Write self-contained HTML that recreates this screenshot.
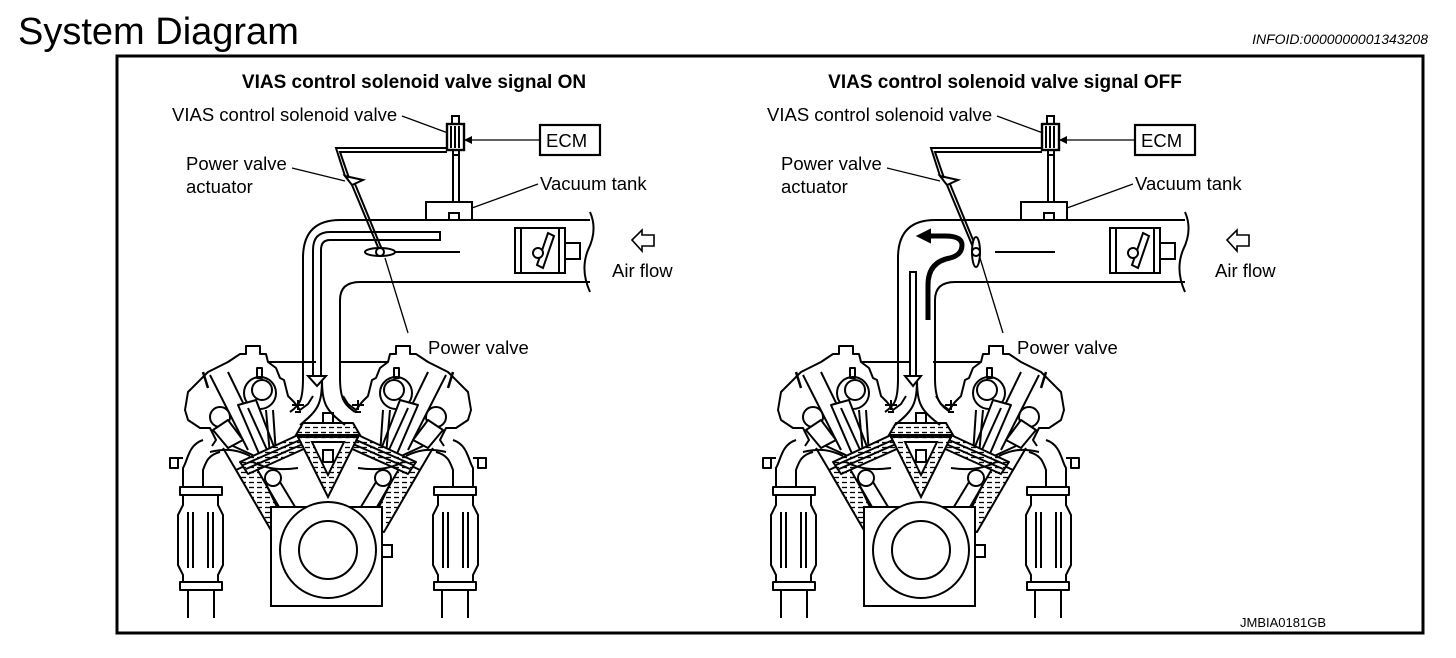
<!DOCTYPE html>
<html><head><meta charset="utf-8"><style>
html,body{margin:0;padding:0;background:#fff;}
body{width:1456px;height:658px;overflow:hidden;position:relative;font-family:"Liberation Sans",sans-serif;}
svg{position:absolute;left:0;top:0;}
text{font-family:"Liberation Sans",sans-serif;fill:#000;}
</style></head><body>
<svg width="1456" height="658" viewBox="0 0 1456 658" xmlns="http://www.w3.org/2000/svg">
<defs>
<pattern id="hatch" width="8" height="5" patternUnits="userSpaceOnUse">
<rect width="8" height="5" fill="#fff"/><line x1="1" y1="2.5" x2="6" y2="2.5" stroke="#000" stroke-width="1.3"/>
</pattern>
<g id="engineHalf" fill="none" stroke="#000" stroke-width="2" stroke-linejoin="round">
  <path d="M-28,362 L-60,362 L-62,354 L-68,354 L-68,346 L-82,346 L-82,354 L-88,354 L-100,362 L-120,372 L-140,392 L-143,410 L-140,420 L-128,428 L-118,428 L-112,440 L-116,446"/>
  <path d="M-60,362 L-52,368 L-48,378 L-44,380 L-40,396 L-34,402 L-28,410 L-20,404 L-15,396"/>
  <line x1="-28" y1="362" x2="-12" y2="362"/>
  <circle cx="-68" cy="393" r="16" fill="#fff"/>
  <circle cx="-66" cy="390" r="10"/>
  <rect x="-71" y="368" width="5" height="10"/>
  <circle cx="-108" cy="417" r="10" fill="#fff"/>
  <path d="M-118,375 L-80,450"/>
  <path d="M-100,372 L-62,450"/>
  <path d="M-90,405 L-72,400 L-52,452 L-68,456 Z" fill="#fff"/>
  <path d="M-80,408 L-60,452"/>
  <path d="M-115,430 L-100,420 L-85,440 L-100,448 Z" fill="#fff"/>
  <path d="M-95,446 L-60,462"/>
  <path d="M-62,410 L-58,455"/>
  <path d="M-55,410 L-52,455"/>
  <line x1="-125" y1="372" x2="-120" y2="388" stroke-width="2.5"/>
  <path d="M-30,400 L-30,410 M-36,405 L-24,405 M-33,412 L-27,412"/>
  <path d="M-125,440 C-140,445 -140,460 -145,468 L-145,487"/>
  <path d="M-108,452 C-120,455 -122,462 -125,470 L-125,487"/>
  <path d="M-145,458 L-158,458 L-158,468 L-150,468 L-150,458" fill="#fff"/>
  <path d="M-118,452 C-100,448 -90,450 -78,456"/>
  <rect x="-148" y="487" width="42" height="8" fill="#fff"/>
  <path d="M-145,495 L-145,505 L-150,515 L-150,565 L-145,575 L-145,582 M-110,495 L-110,505 L-105,515 L-105,565 L-110,575 L-110,582"/>
  <path d="M-140,512 L-140,568 M-135,512 L-135,568 M-120,512 L-120,568 M-115,512 L-115,568"/>
  <rect x="-148" y="582" width="42" height="8" fill="#fff"/>
  <path d="M-140,590 L-140,618 M-114,590 L-114,618"/>
  <path d="M-92,470 L-75,462 L-38,526 L-56,532 Z" fill="url(#hatch)"/>
  <path d="M-88,462 L-30,435 L-22,448 L-80,474 Z" fill="url(#hatch)"/>
  <path d="M-85,465 L-28,440 M-82,469 L-25,444"/>
  <circle cx="-55" cy="478" r="8" fill="#fff"/>
  <path d="M-62,484 L-40,530 M-48,482 L-25,520"/>
  <path d="M-75,462 C-60,470 -45,470 -30,468"/>
  <path d="M-105,448 L-92,470"/>
</g>
<g id="engine" fill="none" stroke="#000" stroke-width="2">
  <use href="#engineHalf"/>
  <use href="#engineHalf" transform="scale(-1,1)"/>
  <path d="M-25,423 L25,423 L32,435 L-32,435 Z" fill="url(#hatch)"/>
  <rect x="-5" y="413" width="10" height="10" fill="#fff"/>
  <path d="M-30,437 L30,437 L0,497 Z" fill="url(#hatch)"/>
  <path d="M-16,442 L16,442 L0,475 Z" fill="#fff"/>
  <rect x="-5" y="450" width="10" height="12" fill="#fff"/>
  <rect x="-57" y="507" width="111" height="99" fill="#fff"/>
  <circle cx="0" cy="550" r="48" fill="#fff"/>
  <circle cx="0" cy="550" r="29"/>
  <rect x="54" y="545" width="10" height="12"/>
</g>
<g id="panelTop" fill="none" stroke="#000" stroke-width="2">
  <rect x="540" y="125" width="60" height="30" stroke-width="2.2"/>
  <line x1="540" y1="140" x2="464" y2="140" stroke-width="1.3"/>
  <path d="M464,140 L472,136 L472,144 Z" fill="#000" stroke="none"/>
  <rect x="452" y="116" width="7" height="8"/>
  <rect x="447" y="124" width="17" height="26" fill="#fff" stroke-width="2.4"/>
  <path d="M451,126 L451,148 M455,126 L455,148 M459,126 L459,148"/>
  <rect x="453" y="150" width="6" height="5"/>
  <path d="M453,155 L453,202 M459,155 L459,202"/>
  <path d="M447,148 L336,148 L345,176 M447,152 L340,152 L349,178"/>
  <rect x="426" y="202" width="46" height="18" fill="#fff"/>
  <rect x="449" y="213" width="10" height="7"/>
  <path d="M402,116 L448,133" stroke-width="1.3"/>
  <path d="M292,168 L345,181" stroke-width="1.3"/>
  <path d="M538,184 L472,208" stroke-width="1.3"/>
  <path d="M385,258 L408,333" stroke-width="1.3"/>
  <path d="M590,220 L340,220 Q303,220 303,258 L303,378"/>
  <path d="M590,282 L360,282 Q340,282 340,300 L340,378"/>
  <path d="M590,212 Q598,230 588,250 Q580,270 590,292"/>
  <rect x="515" y="228" width="50" height="45" fill="#fff"/>
  <path d="M521,228 L521,273 M559,228 L559,273"/>
  <rect x="565" y="243" width="15" height="16"/>
  <path d="M537,265 L548,233 L554,236 L543,268 Z" fill="#fff"/>
  <circle cx="538" cy="253" r="5" fill="#fff"/>
  <path d="M632,240 L642,230 L642,235 L654,235 L654,246 L642,246 L642,251 Z" fill="#fff" stroke-width="1.6"/>
  <path d="M303,362 L287,362 M340,362 L358,362"/>
  <path d="M303,378 C303,400 300,405 290,412 M340,378 C340,400 345,405 355,412"/>
  <path d="M322,378 C322,405 318,410 300,425 M322,378 C322,405 326,410 345,425"/>
</g>
</defs>

<text x="18" y="44" font-size="38">System Diagram</text>
<text x="1428" y="44" font-size="14" font-style="italic" text-anchor="end">INFOID:0000000001343208</text>
<rect x="117" y="56" width="1306" height="577" fill="none" stroke="#000" stroke-width="3"/>

<use href="#engine" transform="translate(328,0)"/>
<use href="#panelTop"/>
<g fill="none" stroke="#000" stroke-width="2">
  <path d="M313,378 L313,250 Q313,232 330,232 L440,232 L440,240 L330,240 Q321,240 321,250 L321,378"/>
  <path d="M308,376 L326,376 L317,386 Z" fill="#fff"/>
  <path d="M345,176 L352,185 L363,180 L345,176 Z M352,185 L380,252 M355,184 L383,252"/>
  <ellipse cx="380" cy="252" rx="15" ry="4" fill="#fff"/>
  <circle cx="380" cy="252" r="4" fill="#fff"/>
  <line x1="395" y1="252" x2="460" y2="252"/>
</g>
<g font-size="18.5">
<text x="414" y="88" text-anchor="middle" font-weight="bold" font-size="19">VIAS control solenoid valve signal ON</text>
<text x="172" y="121">VIAS control solenoid valve</text>
<text x="546" y="147">ECM</text>
<text x="186" y="170">Power valve</text>
<text x="186" y="193">actuator</text>
<text x="540" y="190">Vacuum tank</text>
<text x="612" y="277">Air flow</text>
<text x="428" y="354">Power valve</text>
</g>

<use href="#engine" transform="translate(921,0)"/>
<use href="#panelTop" transform="translate(595,0)"/>
<g fill="none" stroke="#000" stroke-width="2">
  <path d="M910,378 L910,272 L916,272 L916,378"/>
  <path d="M905,376 L921,376 L913,386 Z" fill="#fff"/>
  <path d="M928,320 L928,285 Q928,262 950,258 Q962,255 962,245 Q962,236 945,236 L928,236" stroke-width="5"/>
  <path d="M918,236 L930,230 L930,242 Z" fill="#000"/>
  <path d="M940,176 L947,185 L958,180 L940,176 Z M947,185 L975,252 M950,184 L978,252"/>
  <ellipse cx="976" cy="252" rx="4" ry="15" fill="#fff"/>
  <circle cx="976" cy="252" r="4" fill="#fff"/>
  <line x1="995" y1="252" x2="1055" y2="252"/>
</g>
<g font-size="18.5">
<text x="1005" y="88" text-anchor="middle" font-weight="bold" font-size="19">VIAS control solenoid valve signal OFF</text>
<text x="767" y="121">VIAS control solenoid valve</text>
<text x="1141" y="147">ECM</text>
<text x="781" y="170">Power valve</text>
<text x="781" y="193">actuator</text>
<text x="1135" y="190">Vacuum tank</text>
<text x="1215" y="277">Air flow</text>
<text x="1017" y="354">Power valve</text>
</g>
<text x="1326" y="627" font-size="13" text-anchor="end">JMBIA0181GB</text>
</svg>
</body></html>
